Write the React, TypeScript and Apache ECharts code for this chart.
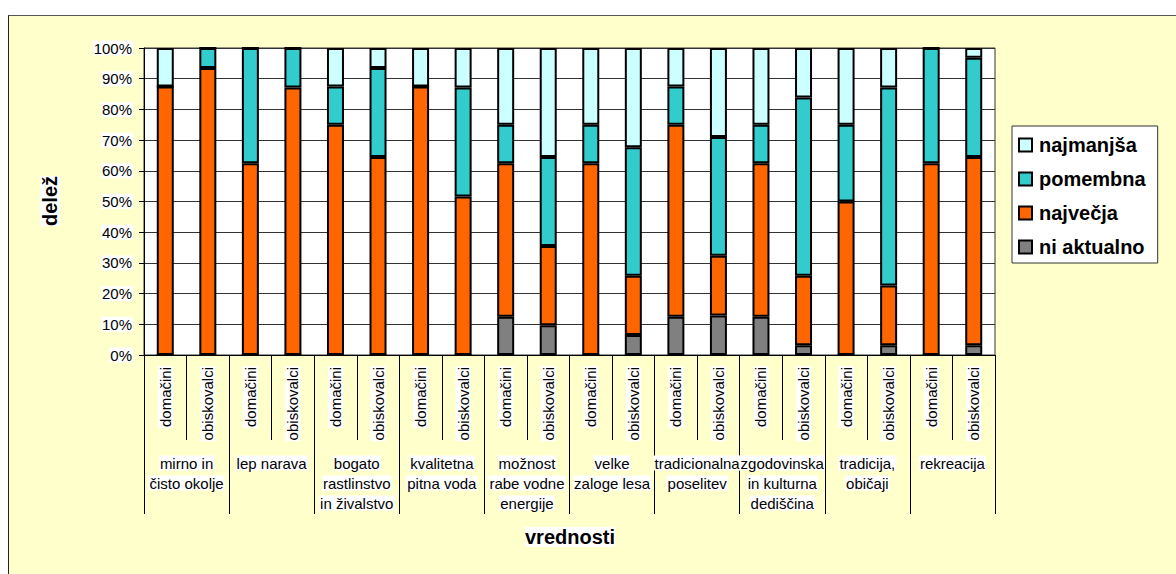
import React, { useEffect, useRef } from "react";
import * as echarts from "echarts";

const groups = [
  "mirno in\nčisto okolje",
  "lep narava",
  "bogato\nrastlinstvo\nin živalstvo",
  "kvalitetna\npitna voda",
  "možnost\nrabe vodne\nenergije",
  "velke\nzaloge lesa",
  "tradicionalna\nposelitev",
  "zgodovinska\nin kulturna\ndediščina",
  "tradicija,\nobičaji",
  "rekreacija",
];
const subCategories = groups.flatMap(() => ["domačini", "obiskovalci"]);

const niAktualno = [0, 0, 0, 0, 0, 0, 0, 0, 12.5, 9.7, 0, 6.5, 12.5, 12.9, 12.5, 3.2, 0, 3.2, 0, 3.2];
const najvecja = [87.5, 93.5, 62.5, 87.1, 75, 64.5, 87.5, 51.6, 50, 25.8, 62.5, 19.3, 62.5, 19.4, 50, 22.6, 50, 19.4, 62.5, 61.3];
const pomembna = [0, 6.5, 37.5, 12.9, 12.5, 29, 0, 35.5, 12.5, 29, 12.5, 41.9, 12.5, 38.7, 12.5, 58.1, 25, 64.5, 37.5, 32.3];
const najmanjsa = [12.5, 0, 0, 0, 12.5, 6.5, 12.5, 12.9, 25, 35.5, 25, 32.3, 12.5, 29, 25, 16.1, 25, 12.9, 0, 3.2];

const seriesDefs = [
  { name: "ni aktualno", data: niAktualno, color: "#808080" },
  { name: "največja", data: najvecja, color: "#FF6600" },
  { name: "pomembna", data: pomembna, color: "#33CCCC" },
  { name: "najmanjša", data: najmanjsa, color: "#CCFFFF" },
];
const legendOrder = ["najmanjša", "pomembna", "največja", "ni aktualno"];

const FONT = "'Liberation Sans', Arial, sans-serif";

export default function App() {
  const ref = useRef<HTMLDivElement>(null);
  useEffect(() => {
    if (!ref.current) return;
    const chart = echarts.init(ref.current, undefined, { renderer: "svg" });
    chart.setOption({
      animation: false,
      textStyle: { fontFamily: FONT, color: "#000" },
      grid: {
        left: 144,
        right: 181,
        top: 48,
        bottom: 219,
        show: true,
        backgroundColor: "#ffffff",
        borderColor: "#333",
        borderWidth: 1,
      },
      legend: {
        orient: "vertical",
        left: 1012,
        top: 126,
        padding: [9, 12, 6, 6],
        itemGap: 14,
        itemWidth: 13,
        itemHeight: 13,
        backgroundColor: "#ffffff",
        borderColor: "#333",
        borderWidth: 1,
        borderRadius: 0,
        data: legendOrder,
        icon: "rect",
        textStyle: { fontSize: 20, fontWeight: "bold", color: "#000", fontFamily: FONT, padding: [0, 0, 0, 2] },
      },
      xAxis: [
        {
          type: "category",
          data: subCategories,
          position: "bottom",
          axisLine: { show: true, lineStyle: { color: "#000", width: 1 } },
          axisTick: { show: true, length: 85, interval: 0, lineStyle: { color: "#000" } },
          axisLabel: {
            interval: 0,
            rotate: 90,
            margin: 11,
            fontSize: 15,
            color: "#000",
            fontFamily: FONT,
            backgroundColor: "#ffffff",
            padding: [0, 1],
          },
          splitLine: { show: false },
        },
        {
          type: "category",
          data: groups,
          position: "bottom",
          axisLine: { show: false },
          axisTick: { show: true, length: 159, interval: 0, lineStyle: { color: "#000" } },
          axisLabel: {
            interval: 0,
            margin: 98,
            fontSize: 15,
            color: "#000",
            fontFamily: FONT,
            formatter: (v: string) => v.split("\n").map((s) => `{a|${s}}`).join("\n"),
            rich: {
              a: { fontSize: 15, lineHeight: 20, backgroundColor: "#ffffff", fontFamily: FONT, color: "#000", padding: [0, 1] },
            },
          },
          splitLine: { show: false },
        },
      ],
      yAxis: {
        type: "value",
        min: 0,
        max: 100,
        interval: 10,
        axisLine: { show: true, lineStyle: { color: "#000" } },
        axisTick: { show: true, length: 5, lineStyle: { color: "#000" } },
        axisLabel: {
          formatter: "{value}%",
          fontSize: 15,
          color: "#000",
          margin: 11,
          fontFamily: FONT,
          backgroundColor: "#ffffff",
          padding: [0, 1],
        },
        splitLine: { show: true, lineStyle: { color: "#333", width: 1 } },
      },
      graphic: [
        {
          type: "text",
          x: 50,
          y: 201,
          rotation: Math.PI / 2,
          style: {
            text: "delež",
            fontSize: 20,
            fontWeight: "bold",
            fontFamily: FONT,
            fill: "#000",
            align: "center",
            verticalAlign: "middle",
            backgroundColor: "#fff",
          },
        },
        {
          type: "text",
          x: 570,
          y: 537,
          style: {
            text: "vrednosti",
            fontSize: 20,
            fontWeight: "bold",
            fontFamily: FONT,
            fill: "#000",
            align: "center",
            verticalAlign: "middle",
            backgroundColor: "#fff",
          },
        },
      ],
      series: seriesDefs.map((s) => ({
        name: s.name,
        type: "bar",
        stack: "total",
        xAxisIndex: 0,
        barWidth: 17,
        data: s.data,
        itemStyle: { color: s.color, borderColor: "#000", borderWidth: 2 },
      })),
    });
    return () => chart.dispose();
  }, []);

  return (
    <div style={{ position: "fixed", left: 0, top: 0, width: 1176, height: 574, background: "#ffffff", overflow: "hidden" }}>
      <div
        style={{
          position: "absolute",
          left: 8,
          top: 15,
          width: 1200,
          height: 600,
          background: "#FFFFCC",
          borderTop: "1.5px solid #555",
          borderLeft: "1.5px solid #222",
          boxSizing: "border-box",
        }}
      />
      <div ref={ref} style={{ position: "absolute", left: 0, top: 0, width: 1176, height: 574 }} />
    </div>
  );
}
